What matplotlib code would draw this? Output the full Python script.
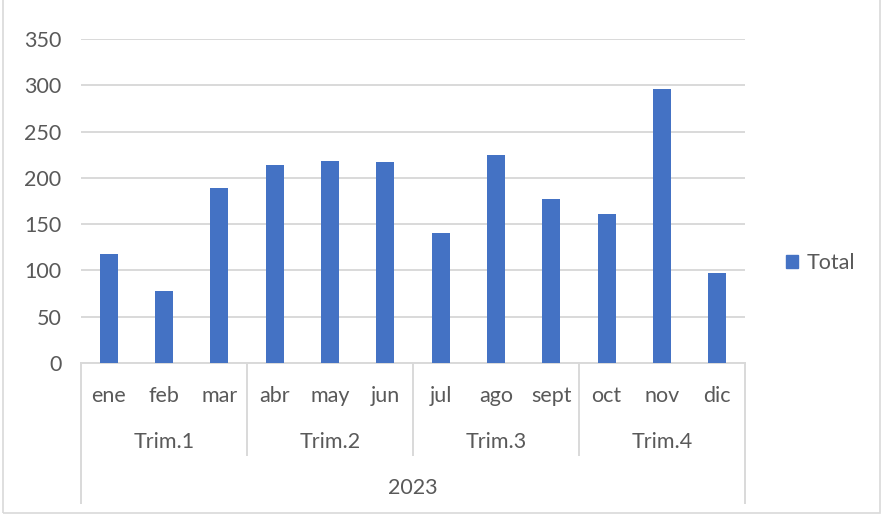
import matplotlib
matplotlib.use("Agg")
import matplotlib.pyplot as plt
from matplotlib.patches import Rectangle, Patch
from matplotlib.lines import Line2D

# data
meses = ['ene', 'feb', 'mar', 'abr', 'may', 'jun',
         'jul', 'ago', 'sept', 'oct', 'nov', 'dic']
totales = [118, 78, 189, 214, 218, 217, 140, 225, 177, 161, 296, 97]
trimestres = ['Trim.1', 'Trim.2', 'Trim.3', 'Trim.4']
anio = '2023'

GRIS = '#595959'
LINEA = '#d9d9d9'
AZUL = '#4472C4'

plt.rcParams['font.family'] = ['Lato', 'DejaVu Sans']

W, H = 885, 516
fig = plt.figure(figsize=(W / 100, H / 100), dpi=100)

# chart area border (top is cut off in the original)
fig.patches.append(Rectangle((3 / W, 3 / H), 877 / W, 1.2, transform=fig.transFigure,
                             fill=False, edgecolor=LINEA, linewidth=1.2))

# bottom of the cut-off title
fig.text(558 / W, 1 + 4.5 / H, 'g', ha='center', va='baseline', fontsize=18, color=GRIS)

ax = fig.add_axes([81 / W, (H - 363) / H, 664 / W, 324 / H])
x = list(range(len(meses)))
ax.bar(x, totales, width=0.33, color=AZUL, zorder=3, label='Total')

ax.set_xlim(-0.5, len(meses) - 0.5)
ax.set_ylim(0, 350)
ax.set_yticks(range(0, 351, 50))
ax.yaxis.grid(True, color=LINEA, linewidth=1.4)
ax.set_axisbelow(True)
for s in ['top', 'right', 'left']:
    ax.spines[s].set_visible(False)
ax.spines['bottom'].set_color(LINEA)
ax.spines['bottom'].set_linewidth(1.4)
ax.tick_params(axis='y', length=0, pad=14, labelsize=15.5, labelcolor=GRIS)
ax.set_xticks(x)
ax.set_xticklabels(meses)
ax.tick_params(axis='x', length=0, pad=16.5, labelsize=15.5, labelcolor=GRIS)

tr = ax.get_xaxis_transform()
# quarter labels and separators
for i, t in enumerate(trimestres):
    ax.text(3 * i + 1, -0.245, t, transform=tr, ha='center', va='center',
            fontsize=15.5, color=GRIS)
for b in [2.5, 5.5, 8.5]:
    ax.add_line(Line2D([b, b], [0, -0.284], transform=tr, color=LINEA,
                       linewidth=1.4, clip_on=False))
for b in [-0.5, 11.5]:
    ax.add_line(Line2D([b, b], [0, -0.432], transform=tr, color=LINEA,
                       linewidth=1.4, clip_on=False))
ax.text(5.5, -0.386, anio, transform=tr, ha='center', va='center',
        fontsize=15.5, color=GRIS)

leg = fig.legend(handles=[Patch(color=AZUL, label='Total')], loc='center left',
                 bbox_to_anchor=(786 / W, 1 - 263 / H), frameon=False,
                 fontsize=15.5, handlelength=0.55, handleheight=0.55,
                 handletextpad=0.4, borderpad=0, borderaxespad=0)
for t in leg.get_texts():
    t.set_color(GRIS)

fig.savefig('out.png', dpi=100)
